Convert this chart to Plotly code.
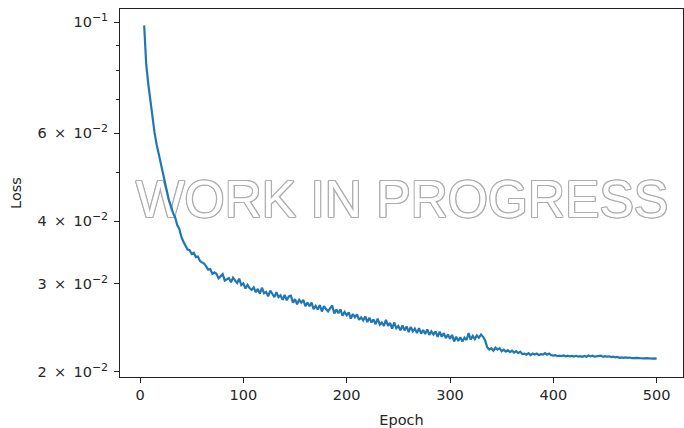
import plotly.graph_objects as go

# ---- data ----
epochs_early = [4, 6, 8, 10, 12, 14, 16, 18, 20, 22, 24, 26, 28, 30, 32, 34, 36, 38, 40,
                42, 44, 46, 48, 50, 52, 54, 56, 58, 60, 62, 64, 66, 68, 70, 72]
loss_early = [0.0985, 0.0822, 0.0752, 0.0698, 0.0640, 0.0602, 0.0570, 0.0546, 0.0518,
              0.0496, 0.0474, 0.0456, 0.0440, 0.0429, 0.0415, 0.0407, 0.0393, 0.0386,
              0.0372, 0.0364, 0.0357, 0.0351, 0.0350, 0.0344, 0.0346, 0.0339, 0.0340,
              0.0333, 0.0331, 0.0329, 0.0325, 0.0320, 0.0321, 0.0314, 0.0316]

epochs_mid = list(range(74, 336, 2))
loss_mid = [
    0.03140, 0.03075, 0.03110, 0.03135, 0.03045, 0.03060, 0.03080, 0.03020, 0.03085, 0.03045,
    0.03010, 0.03070, 0.02980, 0.03005, 0.02935, 0.02985, 0.02940, 0.02915, 0.02950, 0.02885,
    0.02930, 0.02865, 0.02945, 0.02870, 0.02890, 0.02830, 0.02905, 0.02865, 0.02820, 0.02885,
    0.02820, 0.02845, 0.02785, 0.02850, 0.02780, 0.02830, 0.02840, 0.02750, 0.02795, 0.02730,
    0.02785, 0.02750, 0.02785, 0.02705, 0.02750, 0.02705, 0.02750, 0.02670, 0.02710, 0.02665,
    0.02720, 0.02640, 0.02705, 0.02670, 0.02640, 0.02680, 0.02715, 0.02615, 0.02665, 0.02620,
    0.02665, 0.02590, 0.02635, 0.02595, 0.02630, 0.02555, 0.02610, 0.02570, 0.02605, 0.02540,
    0.02570, 0.02535, 0.02580, 0.02515, 0.02565, 0.02510, 0.02545, 0.02490, 0.02555, 0.02485,
    0.02510, 0.02470, 0.02540, 0.02470, 0.02505, 0.02440, 0.02510, 0.02445, 0.02470, 0.02420,
    0.02475, 0.02420, 0.02465, 0.02400, 0.02460, 0.02410, 0.02440, 0.02390, 0.02445, 0.02385,
    0.02425, 0.02380, 0.02430, 0.02370, 0.02410, 0.02375, 0.02410, 0.02350, 0.02405, 0.02350,
    0.02390, 0.02335, 0.02375, 0.02330, 0.02370, 0.02300, 0.02350, 0.02305, 0.02345, 0.02300,
    0.02340, 0.02315, 0.02390, 0.02320, 0.02360, 0.02325, 0.02365, 0.02340, 0.02375, 0.02350,
    0.02310]

epochs_late = list(range(336, 502, 2))
loss_late = [
    0.02240, 0.02215, 0.02230, 0.02205, 0.02235, 0.02215, 0.02230, 0.02200, 0.02215, 0.02195,
    0.02210, 0.02190, 0.02205, 0.02185, 0.02200, 0.02180, 0.02195, 0.02170, 0.02175, 0.02165,
    0.02180, 0.02160, 0.02175, 0.02165, 0.02175, 0.02160, 0.02170, 0.02165, 0.02180, 0.02165,
    0.02175, 0.02160, 0.02155, 0.02160, 0.02150, 0.02155, 0.02150, 0.02157, 0.02148, 0.02155,
    0.02147, 0.02152, 0.02146, 0.02153, 0.02145, 0.02150, 0.02143, 0.02152, 0.02144, 0.02156,
    0.02147, 0.02155, 0.02145, 0.02150, 0.02148, 0.02155, 0.02143, 0.02150, 0.02146, 0.02148,
    0.02140, 0.02145, 0.02137, 0.02142, 0.02134, 0.02138, 0.02133, 0.02137, 0.02132, 0.02136,
    0.02131, 0.02134, 0.02130, 0.02133, 0.02129, 0.02132, 0.02128, 0.02130, 0.02127, 0.02129,
    0.02126, 0.02128, 0.02126]

epochs = epochs_early + epochs_mid[:len(loss_mid)] + epochs_late[:len(loss_late)]
loss = loss_early + loss_mid[:len(epochs_mid)] + loss_late[:len(epochs_late)]

x_tick_vals = [0, 100, 200, 300, 400, 500]
y_tick_vals = [0.02, 0.03, 0.04, 0.06, 0.1]
SUP = '<sup><span style="font-size:11px">{}</span></sup>'
y_tick_text = ["2\u2002×\u200210" + SUP.format("−2"),
               "3\u2002×\u200210" + SUP.format("−2"),
               "4\u2002×\u200210" + SUP.format("−2"),
               "6\u2002×\u200210" + SUP.format("−2"),
               "10" + SUP.format("−1")]
y_minor_vals = [0.05, 0.07, 0.08, 0.09]
watermark = "WORK IN PROGRESS"

FONT = "DejaVu Sans"
TXT = "#262626"
OUT = "#adadad"
offs = [(1.2, 0), (-1.2, 0), (0, 1.2), (0, -1.2), (0.9, 0.9), (-0.9, -0.9), (0.9, -0.9), (-0.9, 0.9)]
shadow = ", ".join(f"{dx}px {dy}px 0 {OUT}" for dx, dy in offs)

fig = go.Figure()
fig.add_trace(go.Scatter(
    x=[253.6], y=[0.04330], mode="text", text=[watermark],
    textfont=dict(family="Liberation Sans", size=51.5, color="white", shadow=shadow),
    hoverinfo="skip", showlegend=False))
fig.add_trace(go.Scatter(
    x=epochs, y=loss, mode="lines",
    line=dict(color="#1f77b4", width=2.2), hoverinfo="skip", showlegend=False))

axis_common = dict(showline=True, linecolor="#222", linewidth=1, mirror=True,
                   ticks="outside", tickcolor="#222", tickwidth=1, ticklen=5,
                   showgrid=False, zeroline=False,
                   tickfont=dict(family=FONT, size=14.5, color=TXT))

fig.update_layout(
    width=684, height=428,
    margin=dict(l=120, r=1, t=9, b=51),
    paper_bgcolor="white", plot_bgcolor="white",
    font=dict(family=FONT, size=14.5, color=TXT),
    xaxis=dict(range=[-19.4, 525.5], tickmode="array", tickvals=x_tick_vals,
               title=dict(text="Epoch", standoff=12, font=dict(family=FONT, size=14.5, color=TXT)),
               **axis_common),
    yaxis=dict(type="log", range=[-1.7093, -0.9738], tickmode="array",
               tickvals=y_tick_vals, ticktext=y_tick_text, ticklabelstandoff=3,
               minor=dict(tickmode="array", tickvals=y_minor_vals, ticks="outside",
                          ticklen=3, tickcolor="#222", tickwidth=1, showgrid=False),
               title=dict(text="Loss", standoff=12, font=dict(family=FONT, size=14.5, color=TXT)),
               **axis_common),
)

fig.write_html("out.html", config={"displayModeBar": False, "staticPlot": True})
